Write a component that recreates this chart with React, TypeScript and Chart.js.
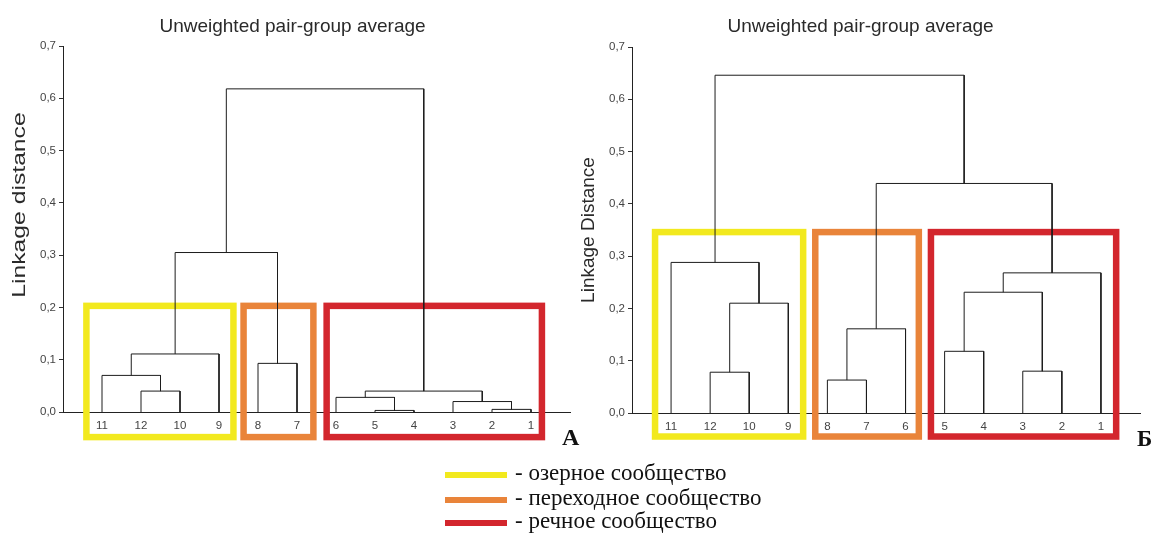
import React, { useEffect, useRef } from 'react';
import { Chart, registerables } from 'chart.js';

Chart.register(...registerables);

// ---- data ----
const chartTitle = 'Unweighted pair-group average';
const yLabelA = 'Linkage distance';
const yLabelB = 'Linkage Distance';
const yTicks = [0, 0.1, 0.2, 0.3, 0.4, 0.5, 0.6, 0.7];

// leaf order on the x axis (station numbers)
const leavesA = ['11', '12', '10', '9', '8', '7', '6', '5', '4', '3', '2', '1'];
// merges: node ids 0..11 are leaves (in order), 12+ are merges in order of listing
const mergeLeftA = [1, 0, 13, 4, 14, 7, 6, 10, 9, 18, 16];
const mergeRightA = [2, 12, 3, 5, 15, 8, 17, 11, 19, 20, 21];
const heightsA = [0.04, 0.07, 0.111, 0.093, 0.305, 0.003, 0.028, 0.005, 0.02, 0.04, 0.618];

const leavesB = ['11', '12', '10', '9', '8', '7', '6', '5', '4', '3', '2', '1'];
const mergeLeftB = [1, 12, 0, 4, 15, 7, 9, 17, 19, 16, 14];
const mergeRightB = [2, 3, 13, 5, 6, 8, 10, 18, 11, 20, 21];
const heightsB = [0.078, 0.21, 0.288, 0.063, 0.161, 0.118, 0.08, 0.231, 0.268, 0.439, 0.646];

const groupNames = ['озерное сообщество', 'переходное сообщество', 'речное сообщество'];
// group frames (x from / to in leaf units)
const framesFromA = [0.6, 4.63, 6.76];
const framesToA = [4.37, 6.42, 12.28];
const framesFromB = [0.59, 4.69, 7.65];
const framesToB = [4.38, 7.34, 12.39];

const groupColors = ['#f2e91e', '#e9843a', '#d3262d'];

function buildSegments(nLeaves: number, ml: number[], mr: number[], hs: number[]) {
  const nx: number[] = [];
  const ny: number[] = [];
  for (let i = 0; i < nLeaves; i++) {
    nx.push(i + 1);
    ny.push(0);
  }
  const sets: { x: number; y: number }[][] = [];
  for (let k = 0; k < hs.length; k++) {
    const a = ml[k];
    const b = mr[k];
    const h = hs[k];
    sets.push([
      { x: nx[a], y: ny[a] },
      { x: nx[a], y: h },
      { x: nx[b], y: h },
      { x: nx[b], y: ny[b] },
    ]);
    nx.push((nx[a] + nx[b]) / 2);
    ny.push(h);
  }
  return sets;
}

type DendroProps = {
  left: number;
  width: number;
  height: number;
  padLeft: number;
  padRight: number;
  axisW: number;
  topPx: number;
  bottomPx: number;
  leaves: string[];
  ml: number[];
  mr: number[];
  hs: number[];
  fFrom: number[];
  fTo: number[];
  fTop: number;
  fBottom: number;
  yLabel: string;
  yLabelX: number;
  yLabelY: number;
  yLabelStretch: number;
};

function Dendro(p: DendroProps) {
  const ref = useRef<HTMLCanvasElement | null>(null);
  useEffect(() => {
    if (!ref.current) return;
    const segs = buildSegments(p.leaves.length, p.ml, p.mr, p.hs);
    const framePlugin = {
      id: 'frames',
      beforeDatasetsDraw(chart: any) {
        const { ctx, scales } = chart;
        const xs = scales.x;
        const ys = scales.y;
        ctx.save();
        ctx.lineWidth = 6.5;
        for (let i = 0; i < p.fFrom.length; i++) {
          const x0 = xs.getPixelForValue(p.fFrom[i]);
          const x1 = xs.getPixelForValue(p.fTo[i]);
          const y0 = ys.getPixelForValue(p.fTop);
          const y1 = ys.getPixelForValue(p.fBottom);
          ctx.strokeStyle = groupColors[i];
          ctx.strokeRect(x0, y0, x1 - x0, y1 - y0);
        }
        ctx.restore();
      },
    };
    const yTitlePlugin = {
      id: 'ytitle',
      afterDraw(chart: any) {
        const { ctx } = chart;
        ctx.save();
        ctx.translate(p.yLabelX, p.yLabelY);
        ctx.rotate(-Math.PI / 2);
        ctx.scale(p.yLabelStretch, 1);
        ctx.font = '19px "Liberation Sans", Arial, sans-serif';
        ctx.fillStyle = '#2a2a2a';
        ctx.textAlign = 'center';
        ctx.textBaseline = 'middle';
        ctx.fillText(p.yLabel, 0, 0);
        ctx.restore();
      },
    };
    const chart = new Chart(ref.current, {
      type: 'line',
      data: {
        datasets: segs.map((s) => ({
          data: s,
          borderColor: '#1c1c1c',
          borderWidth: 1,
          pointRadius: 0,
          tension: 0,
          fill: false,
          clip: false as any,
        })),
      },
      options: {
        animation: false,
        responsive: false,
        devicePixelRatio: 1,
        events: [],
        layout: { padding: { left: p.padLeft, right: p.padRight, top: 0, bottom: 0 } },
        plugins: {
          legend: { display: false },
          tooltip: { enabled: false },
          title: {
            display: true,
            text: chartTitle,
            color: '#2a2a2a',
            font: { family: '"Liberation Sans", Arial, sans-serif', size: 19, weight: 'normal' as any },
            padding: { top: 15, bottom: p.topPx - 15 - 22.8 },
          },
        },
        scales: {
          x: {
            type: 'linear',
            min: 0,
            max: p.leaves.length + 1,
            afterFit(scale: any) {
              scale.height = p.height - p.bottomPx;
            },
            afterBuildTicks(scale: any) {
              scale.ticks = p.leaves.map((_, i) => ({ value: i + 1 }));
            },
            grid: { display: false, drawTicks: false },
            border: { display: true, color: '#222', width: 1 },
            ticks: {
              autoSkip: false,
              maxRotation: 0,
              padding: 7,
              color: '#444',
              font: { family: '"Liberation Sans", Arial, sans-serif', size: 11.5 },
              callback: (v: any) => p.leaves[Math.round(Number(v)) - 1] ?? '',
            },
          },
          y: {
            type: 'linear',
            min: 0,
            max: 0.7,
            afterFit(scale: any) {
              scale.width = p.axisW;
            },
            afterBuildTicks(scale: any) {
              scale.ticks = yTicks.map((v) => ({ value: v }));
            },
            grid: { display: true, drawOnChartArea: false, drawTicks: true, tickLength: 4, color: '#333' },
            border: { display: true, color: '#222', width: 1 },
            ticks: {
              padding: 3,
              color: '#444',
              font: { family: '"Liberation Sans", Arial, sans-serif', size: 11.5 },
              callback: (v: any) => Number(v).toFixed(1).replace('.', ','),
            },
          },
        },
      },
      plugins: [framePlugin, yTitlePlugin],
    } as any);
    return () => chart.destroy();
  }, []);
  return (
    <canvas
      ref={ref}
      width={p.width}
      height={p.height}
      style={{ position: 'absolute', left: p.left, top: 0, width: p.width, height: p.height }}
    />
  );
}

export default function App() {
  const serif = '"Liberation Serif", "Times New Roman", serif';
  const rowTops = [460, 485, 508];
  const barCenters = [475, 500, 523];
  return (
    <div style={{ position: 'absolute', left: 0, top: 0, width: 1155, height: 533, background: '#fff', overflow: 'hidden' }}>
      <Dendro
        left={0}
        width={585}
        height={450}
        padLeft={15}
        padRight={15}
        axisW={48}
        topPx={46}
        bottomPx={412}
        leaves={leavesA}
        ml={mergeLeftA}
        mr={mergeRightA}
        hs={heightsA}
        fFrom={framesFromA}
        fTo={framesToA}
        fTop={0.203}
        fBottom={-0.048}
        yLabel={yLabelA}
        yLabelX={20}
        yLabelY={205}
        yLabelStretch={1.3}
      />
      <Dendro
        left={570}
        width={580}
        height={450}
        padLeft={11}
        padRight={10}
        axisW={51}
        topPx={47}
        bottomPx={413}
        leaves={leavesB}
        ml={mergeLeftB}
        mr={mergeRightB}
        hs={heightsB}
        fFrom={framesFromB}
        fTo={framesToB}
        fTop={0.346}
        fBottom={-0.045}
        yLabel={yLabelB}
        yLabelX={18.5}
        yLabelY={230}
        yLabelStretch={1}
      />
      <div style={{ position: 'absolute', left: 562, top: 425, font: `bold 24px ${serif}`, lineHeight: '24px', color: '#111' }}>А</div>
      <div style={{ position: 'absolute', left: 1137, top: 427, font: `bold 23px ${serif}`, lineHeight: '23px', color: '#111' }}>Б</div>
      {groupNames.map((name, i) => (
        <React.Fragment key={name}>
          <div
            style={{
              position: 'absolute',
              left: 445,
              top: barCenters[i] - 3,
              width: 62,
              height: 6,
              background: groupColors[i],
            }}
          />
          <div
            style={{
              position: 'absolute',
              left: 515,
              top: rowTops[i],
              font: `23px ${serif}`,
              lineHeight: '25px',
              color: '#111',
              whiteSpace: 'nowrap',
            }}
          >
            {'- ' + name}
          </div>
        </React.Fragment>
      ))}
    </div>
  );
}
